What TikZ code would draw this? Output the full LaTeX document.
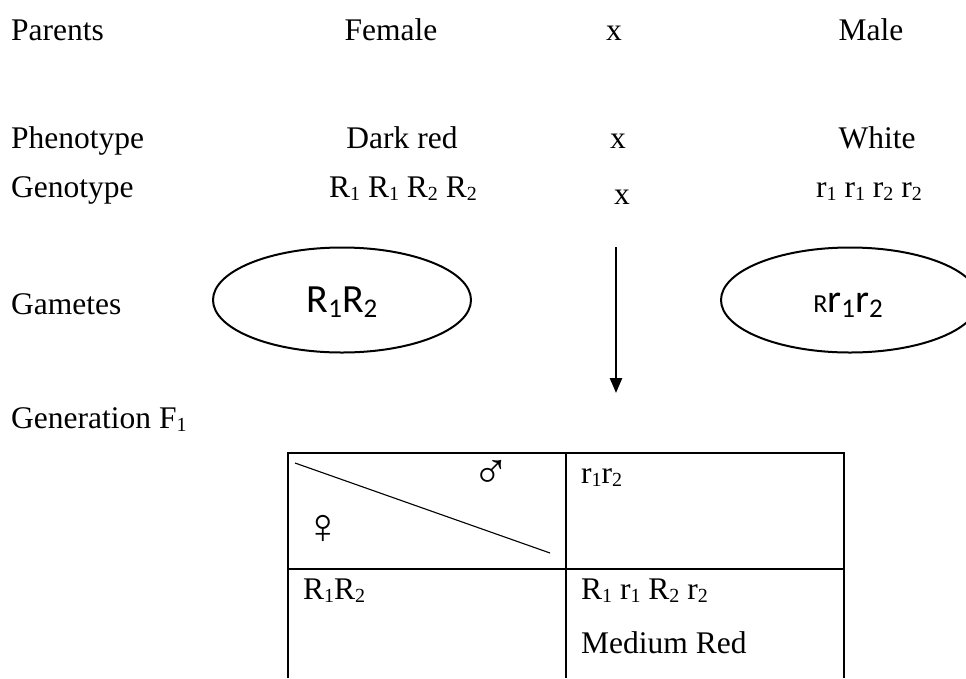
\documentclass[tikz,border=0pt]{standalone}
\usepackage{fontspec}
\setmainfont{Liberation Serif}
\newfontfamily\calib{Carlito}
\usetikzlibrary{arrows.meta,shapes.geometric}
\newcommand{\sbs}[1]{\raisebox{-0.25ex}{\fontsize{20}{20}\selectfont #1}}
\newcommand{\csb}[1]{\raisebox{-0.3ex}{\fontsize{27}{27}\selectfont #1}}
\tikzset{
  txt/.style={inner sep=0pt, font=\fontsize{31.5}{36}\selectfont},
  lab/.style={txt, anchor=base west},
  mid/.style={txt, anchor=base},
  gam/.style={draw, line width=2pt, ellipse, minimum width=258pt, minimum height=105pt, inner sep=0pt, font=\calib\fontsize{40}{44}\selectfont},
  grid/.style={line width=1.2pt},
  sym/.style={inner sep=0pt, font=\fontsize{50}{50}\selectfont},
}
\begin{document}
\begin{tikzpicture}[x=1pt,y=-1pt]
\useasboundingbox (0,0) rectangle (966,678);
% row labels
\node[lab] (parents) at (11,40) {Parents};
\node[mid] (female) at (391,40) {Female};
\node[mid] (x1) at (614,40) {x};
\node[mid] (male) at (871,40) {Male};
\node[lab] (pheno) at (11,148) {Phenotype};
\node[mid] (dark) at (402,148) {Dark red};
\node[mid] (x2) at (618,148) {x};
\node[mid] (white) at (877,148) {White};
\node[lab] (geno) at (11,197) {Genotype};
\node[mid] (gf) at (403,197) {R\sbs{1} R\sbs{1} R\sbs{2} R\sbs{2}};
\node[mid] (x3) at (622,204) {x};
\node[mid] (gm) at (869,197) {r\sbs{1} r\sbs{1} r\sbs{2} r\sbs{2}};
\node[lab] (gam) at (11,314) {Gametes};
\node[lab] (gen) at (11,428) {Generation F\sbs{1}};
% gametes
\node[gam] (e1) at (342,300) {};
\node[anchor=base, inner sep=0pt, font=\calib\fontsize{40}{44}\selectfont] (t1) at (e1.center |- 0,312) {R\csb{1}R\csb{2}};
\node[gam] (e2) at (850,300) {};
\node[anchor=base, inner sep=0pt, font=\calib\fontsize{40}{44}\selectfont] (t2) at (848,312) {{\fontsize{26}{26}\selectfont R}r\csb{1}r\csb{2}};
% arrow
\coordinate (a1) at (616,247);
\coordinate (a2) at (616,393);
\draw[line width=2.5pt, -{Triangle[length=15pt,width=12pt]}] (a1) -- (a2);
% table
\coordinate (tl) at (288,453);
\coordinate (tr) at (844,453);
\coordinate (tm) at (566,453);
\coordinate (bl) at (288,678);
\coordinate (br) at (844,678);
\coordinate (bm) at (566,678);
\coordinate (ml) at (288,569);
\coordinate (mr) at (844,569);
\draw[grid] (bl) -- (tl) -- (tr) -- (br);
\draw[grid] (ml) -- (mr);
\draw[grid] (tm) -- (bm);
\coordinate (d1) at (295,463);
\coordinate (d2) at (550,553);
\draw[line width=1.1pt] (d1) -- (d2);
\node[sym] (ms) at (491,474) {♂};
\node[sym] (fs) at (323,529) {♀};
\node[lab] (c1) at (581,483) {r\sbs{1}r\sbs{2}};
\node[lab] (c2) at (303,599) {R\sbs{1}R\sbs{2}};
\node[lab] (c3) at (581,599) {R\sbs{1} r\sbs{1} R\sbs{2} r\sbs{2}};
\node[lab] (c4) at (581,653) {Medium Red};
\end{tikzpicture}
\end{document}
